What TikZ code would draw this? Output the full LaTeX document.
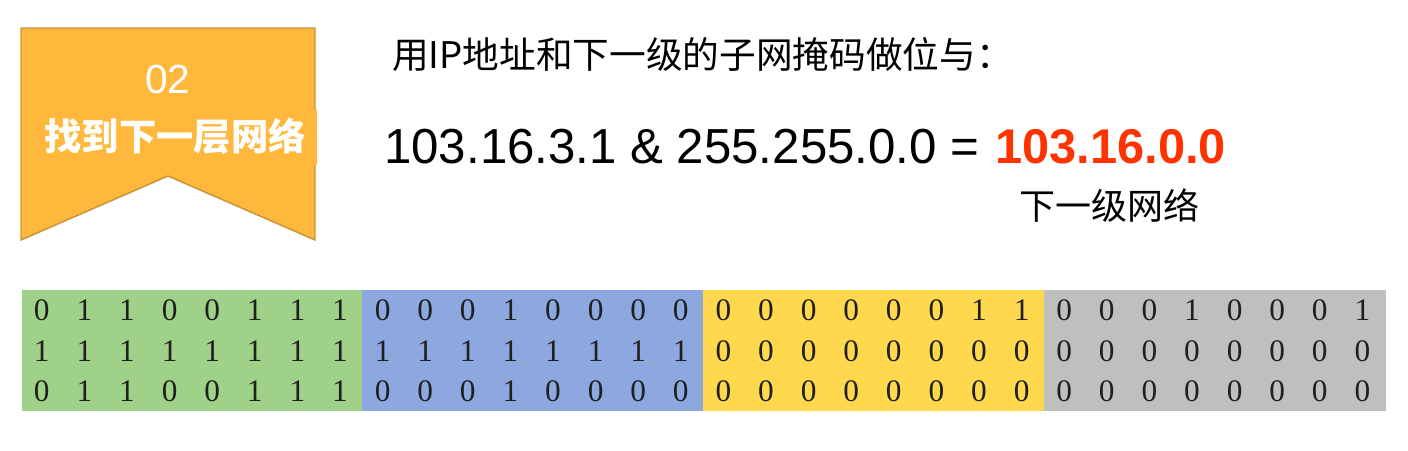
\documentclass[tikz,border=0pt]{standalone}
\usepackage{fontspec}
\setmainfont{Liberation Sans}
\newfontfamily\cjk{Noto Sans CJK SC}
\newfontfamily\serifd{Liberation Serif}
\definecolor{bannerfill}{HTML}{FFB83B}
\definecolor{bannerline}{HTML}{C99439}
\definecolor{blkgreen}{HTML}{9FD288}
\definecolor{blkblue}{HTML}{8CA8DE}
\definecolor{blkyellow}{HTML}{FFD84D}
\definecolor{blkgray}{HTML}{BFBFBF}
\definecolor{resred}{HTML}{FF3300}
\tikzset{
  bitcell/.style={inner sep=0pt, font=\serifd\fontsize{23.5}{23.5}\selectfont, text=black!88},
}
\begin{document}
\begin{tikzpicture}[x=0.75pt,y=-0.75pt]
\useasboundingbox (0,0) rectangle (1408,450);
% banner
\draw[fill=bannerfill, draw=bannerline, line width=1.1pt]
  (21,28) -- (315,28) -- (315,240) -- (168,176) -- (21,240) -- cycle;
\fill[bannerfill] (40,110) rectangle (316.5,165);
\node[text=white, font=\fontsize{30.5}{30.5}\selectfont] (num) at (168,79) {02};
\node[text=white, font=\cjk\bfseries\fontsize{28}{28}\selectfont] (title) at (175,136) {找到下一层网络};
% heading
\node[anchor=west, font=\cjk\fontsize{27.5}{27.5}\selectfont, inner sep=0pt] (head) at (392,55) {用IP地址和下一级的子网掩码做位与：};
% equation
\node[anchor=base west, font=\fontsize{36.9}{36.9}\selectfont, inner sep=0pt] (eq) at (384,163) {103.16.3.1 \& 255.255.0.0 =};
\node[anchor=base west, font=\bfseries\fontsize{36.6}{36.6}\selectfont, text=resred, inner sep=0pt] (res) at (995,163) {103.16.0.0};
\node[font=\cjk\fontsize{27}{27}\selectfont, inner sep=0pt] (lbl) at (1109,206) {下一级网络};
% blocks
\fill[blkgreen] (22,290) rectangle (362,411);
\fill[blkblue] (362,290) rectangle (703,411);
\fill[blkyellow] (703,290) rectangle (1044,411);
\fill[blkgray] (1044,290) rectangle (1386,411);
% bits
\foreach \row/\bits [count=\r] in {1/{0,1,1,0,0,1,1,1,0,0,0,1,0,0,0,0,0,0,0,0,0,0,1,1,0,0,0,1,0,0,0,1},
                                    2/{1,1,1,1,1,1,1,1,1,1,1,1,1,1,1,1,0,0,0,0,0,0,0,0,0,0,0,0,0,0,0,0},
                                    3/{0,1,1,0,0,1,1,1,0,0,0,1,0,0,0,0,0,0,0,0,0,0,0,0,0,0,0,0,0,0,0,0}} {
  \foreach \b [count=\k] in \bits {
    \node[bitcell] (c-\r-\k) at ({22+42.6*(\k-0.5)-1.5}, {310.5+40.3*(\r-1)}) {\b};
  }
}
\end{tikzpicture}
\end{document}
